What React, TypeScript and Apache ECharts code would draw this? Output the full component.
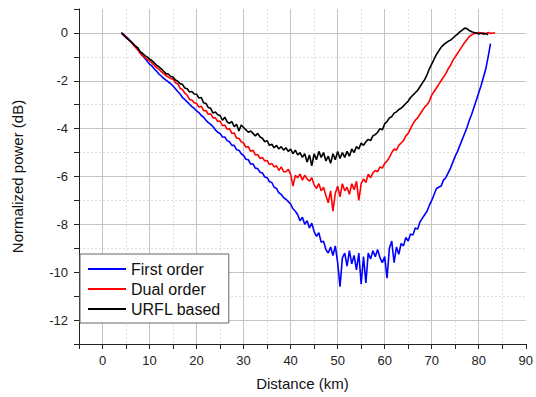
import React, { useEffect, useRef } from "react";
import * as echarts from "echarts";

// Distance grid (km): 4.0, 4.5, 5.0, ... 83.5
const distanceKm: number[] = [
  4, 4.5, 5, 5.5, 6, 6.5, 7, 7.5, 8, 8.5,
  9, 9.5, 10, 10.5, 11, 11.5, 12, 12.5, 13, 13.5,
  14, 14.5, 15, 15.5, 16, 16.5, 17, 17.5, 18, 18.5,
  19, 19.5, 20, 20.5, 21, 21.5, 22, 22.5, 23, 23.5,
  24, 24.5, 25, 25.5, 26, 26.5, 27, 27.5, 28, 28.5,
  29, 29.5, 30, 30.5, 31, 31.5, 32, 32.5, 33, 33.5,
  34, 34.5, 35, 35.5, 36, 36.5, 37, 37.5, 38, 38.5,
  39, 39.5, 40, 40.5, 41, 41.5, 42, 42.5, 43, 43.5,
  44, 44.5, 45, 45.5, 46, 46.5, 47, 47.5, 48, 48.5,
  49, 49.5, 50, 50.5, 51, 51.5, 52, 52.5, 53, 53.5,
  54, 54.5, 55, 55.5, 56, 56.5, 57, 57.5, 58, 58.5,
  59, 59.5, 60, 60.5, 61, 61.5, 62, 62.5, 63, 63.5,
  64, 64.5, 65, 65.5, 66, 66.5, 67, 67.5, 68, 68.5,
  69, 69.5, 70, 70.5, 71, 71.5, 72, 72.5, 73, 73.5,
  74, 74.5, 75, 75.5, 76, 76.5, 77, 77.5, 78, 78.5,
  79, 79.5, 80, 80.5, 81, 81.5, 82, 82.5, 83, 83.5,
];

const firstOrder: number[] = [
  0, -0.06, -0.15, -0.24, -0.35, -0.45, -0.58, -0.7, -0.82, -0.95,
  -1.06, -1.18, -1.3, -1.38, -1.5, -1.6, -1.72, -1.8, -1.9, -1.97,
  -2.05, -2.12, -2.22, -2.33, -2.45, -2.55, -2.7, -2.78, -2.88, -2.98,
  -3.08, -3.15, -3.26, -3.33, -3.45, -3.52, -3.65, -3.75, -3.82, -3.92,
  -4.05, -4.15, -4.2, -4.35, -4.35, -4.5, -4.55, -4.7, -4.7, -4.88,
  -4.9, -5.05, -5.12, -5.28, -5.3, -5.48, -5.47, -5.65, -5.67, -5.82,
  -5.85, -6.02, -6.05, -6.22, -6.25, -6.45, -6.5, -6.68, -6.75, -6.88,
  -6.95, -7.05, -7.15, -7.35, -7.45, -7.6, -7.85, -7.7, -8.0, -7.85,
  -8.15, -7.95, -8.3, -8.5, -8.35, -8.75, -8.7, -9.05, -9.2, -8.95,
  -9.3, -8.9, -9.6, -10.6, -9.4, -9.2, -9.75, -9.1, -9.65, -9.3,
  -9.9, -9.2, -10.5, -9.35, -10.45, -9.2, -9.45, -9.1, -9.35, -9.05,
  -9.4, -9.6, -9.35, -10.25, -9.0, -8.7, -9.6, -8.95, -9.25, -8.8,
  -8.9, -8.55, -8.7, -8.4, -8.45, -8.15, -8.2, -7.9, -7.75, -7.6,
  -7.45, -7.2, -7.0, -6.75, -6.5, -6.45, -6.4, -6.15, -6.05, -5.85,
  -5.65, -5.4, -5.15, -4.95, -4.7, -4.45, -4.2, -3.95, -3.65, -3.4,
  -3.1, -2.8, -2.5, -2.2, -1.85, -1.5, -1.0, -0.45,
];

const dualOrder: number[] = [
  0, -0.07, -0.17, -0.27, -0.38, -0.48, -0.6, -0.7, -0.85, -0.95,
  -1.02, -1.1, -1.16, -1.25, -1.35, -1.45, -1.52, -1.62, -1.7, -1.78,
  -1.85, -1.9, -1.93, -2.08, -2.12, -2.32, -2.36, -2.52, -2.6, -2.78,
  -2.8, -2.92, -2.95, -3.1, -3.06, -3.25, -3.24, -3.4, -3.38, -3.55,
  -3.55, -3.7, -3.68, -3.88, -3.85, -4.02, -4.0, -4.2, -4.18, -4.4,
  -4.4, -4.55, -4.6, -4.78, -4.75, -4.95, -4.9, -5.1, -5.08, -5.25,
  -5.2, -5.35, -5.33, -5.5, -5.45, -5.6, -5.55, -5.75, -5.6, -5.8,
  -5.8, -5.7, -5.9, -6.4, -5.95, -6.05, -5.9, -6.15, -5.95, -6.1,
  -6.2, -6.05, -6.35, -6.5, -6.3, -6.6, -6.45, -6.8, -7.1, -6.6,
  -7.45, -6.7, -6.4, -6.85, -6.3, -6.6, -6.45, -6.75, -6.3, -6.55,
  -6.2, -7.0, -6.3, -6.1, -6.25, -5.9, -6.05, -5.85, -5.75, -5.8,
  -5.6, -5.65, -5.45, -5.35, -5.2, -5.0, -4.85, -4.9, -4.7, -4.6,
  -4.5, -4.3, -4.2, -4.0, -3.8, -3.65, -3.55, -3.4, -3.25, -3.1,
  -3.0, -2.85, -2.6, -2.45, -2.3, -2.15, -2.0, -1.85, -1.7, -1.5,
  -1.35, -1.15, -1.0, -0.85, -0.7, -0.55, -0.4, -0.28, -0.15, -0.08,
  -0.03, 0, 0.02, -0.03, 0.01, -0.04, 0.02, -0.02, 0, 0,
];

const urflBased: number[] = [
  0, -0.1, -0.2, -0.28, -0.35, -0.45, -0.55, -0.62, -0.78, -0.85,
  -0.95, -1.0, -1.09, -1.15, -1.25, -1.35, -1.42, -1.5, -1.6, -1.7,
  -1.72, -1.82, -1.84, -1.97, -2.02, -2.12, -2.15, -2.3, -2.33, -2.47,
  -2.45, -2.55, -2.56, -2.72, -2.7, -2.92, -2.95, -3.12, -3.15, -3.35,
  -3.3, -3.42, -3.45, -3.65, -3.52, -3.72, -3.78, -3.7, -3.92, -3.82,
  -4.1, -3.85, -3.95, -4.05, -4.15, -4.1, -4.2, -4.3, -4.2, -4.35,
  -4.4, -4.55, -4.5, -4.7, -4.65, -4.8, -4.7, -4.85, -4.75, -4.9,
  -4.8, -4.95, -4.85, -5.05, -4.9, -5.1, -5.0, -5.2, -5.05, -5.4,
  -5.1, -5.55, -5.05, -5.3, -4.95, -5.2, -5.0, -5.35, -5.15, -5.45,
  -5.05, -5.3, -4.95, -5.25, -5.0, -5.2, -4.95, -5.15, -4.85, -5.0,
  -4.75, -4.85, -4.6, -4.7, -4.55, -4.45, -4.5, -4.3, -4.25, -4.15,
  -4.0, -4.05, -3.8, -3.7, -3.55, -3.5, -3.35, -3.3, -3.2, -3.15,
  -3.05, -2.95, -2.85, -2.7, -2.6, -2.5, -2.4, -2.25, -2.1, -1.95,
  -1.75, -1.5, -1.3, -1.1, -0.9, -0.75, -0.6, -0.5, -0.42, -0.35,
  -0.3, -0.22, -0.12, -0.05, 0.05, 0.12, 0.2, 0.18, 0.1, 0.05,
  0.02, 0, -0.05, 0.0, -0.05, -0.02, -0.08,
];

const seriesNames = ["First order", "Dual order", "URFL based"];
const seriesColors = ["#0000ff", "#ff0000", "#000000"];
const seriesValues = [firstOrder, dualOrder, urflBased];

const FONT = "Arial, 'Liberation Sans', sans-serif";

export default function App() {
  const ref = useRef<HTMLDivElement>(null);
  useEffect(() => {
    if (!ref.current) return;
    const chart = echarts.init(ref.current, undefined, { renderer: "svg" });
    const majorColor = "#c4c4c4";
    const minorColor = "#dedede";
    chart.setOption({
      animation: false,
      backgroundColor: "#ffffff",
      textStyle: { fontFamily: FONT },
      grid: { left: 79, right: 7, top: 9, bottom: 53, containLabel: false },
      legend: {
        show: true,
        orient: "vertical",
        left: 80,
        top: 254,
        data: seriesNames,
        icon: "rect",
        itemWidth: 38,
        itemHeight: 2,
        itemGap: 4,
        padding: [7, 8, 6, 8],
        borderColor: "#666",
        borderWidth: 1,
        backgroundColor: "#ffffff",
        textStyle: { fontFamily: FONT, fontSize: 16, lineHeight: 16, color: "#111" },
      },
      xAxis: [
        {
          type: "value",
          min: -5,
          max: 90,
          interval: 5,
          name: "Distance (km)",
          nameLocation: "middle",
          nameGap: 32,
          nameTextStyle: { fontSize: 15, color: "#111", fontFamily: FONT },
          axisLine: { show: true, onZero: false, lineStyle: { color: "#222", width: 1 } },
          axisTick: { show: true, length: 5, lineStyle: { color: "#222" } },
          axisLabel: {
            fontSize: 13,
            color: "#222",
            margin: 10,
            formatter: (v: number) => (v % 10 === 0 ? String(v) : ""),
          },
          splitLine: {
            show: true,
            showMaxLine: false,
            lineStyle: { color: ["rgba(0,0,0,0)", majorColor], width: 1, type: "solid" },
          },
        },
        {
          type: "value",
          min: -5,
          max: 90,
          interval: 10,
          position: "bottom",
          axisLine: { show: false },
          axisTick: { show: false },
          axisLabel: { show: false },
          splitLine: {
            show: true,
            showMinLine: false,
            showMaxLine: false,
            lineStyle: { color: minorColor, width: 1, type: [2, 2] },
          },
        },
      ],
      yAxis: [
        {
          type: "value",
          min: -13,
          max: 1,
          interval: 1,
          name: "Normalized power (dB)",
          nameLocation: "middle",
          nameGap: 54,
          nameTextStyle: { fontSize: 15, color: "#111", fontFamily: FONT },
          axisLine: { show: true, onZero: false, lineStyle: { color: "#222", width: 1 } },
          axisTick: { show: true, length: 5, lineStyle: { color: "#222" } },
          axisLabel: {
            fontSize: 13,
            color: "#222",
            margin: 11,
            formatter: (v: number) => (Math.round(v) % 2 === 0 ? String(Math.round(v)) : ""),
          },
          splitLine: {
            show: true,
            showMaxLine: false,
            lineStyle: { color: ["rgba(0,0,0,0)", majorColor], width: 1, type: "solid" },
          },
        },
        {
          type: "value",
          min: -13,
          max: 1,
          interval: 2,
          position: "left",
          axisLine: { show: false },
          axisTick: { show: false },
          axisLabel: { show: false },
          splitLine: {
            show: true,
            showMinLine: false,
            showMaxLine: false,
            lineStyle: { color: minorColor, width: 1, type: [2, 2] },
          },
        },
      ],
      series: seriesNames.map((name, k) => ({
        name,
        type: "line",
        xAxisIndex: 0,
        yAxisIndex: 0,
        symbol: "none",
        showSymbol: false,
        color: seriesColors[k],
        lineStyle: { color: seriesColors[k], width: 1.6 },
        data: seriesValues[k].map((v, i) => [distanceKm[i], v]),
        z: 2 + k,
      })),
    });
    return () => chart.dispose();
  }, []);
  return (
    <div
      ref={ref}
      style={{ position: "fixed", left: 0, top: 0, width: 536, height: 397 }}
    />
  );
}
